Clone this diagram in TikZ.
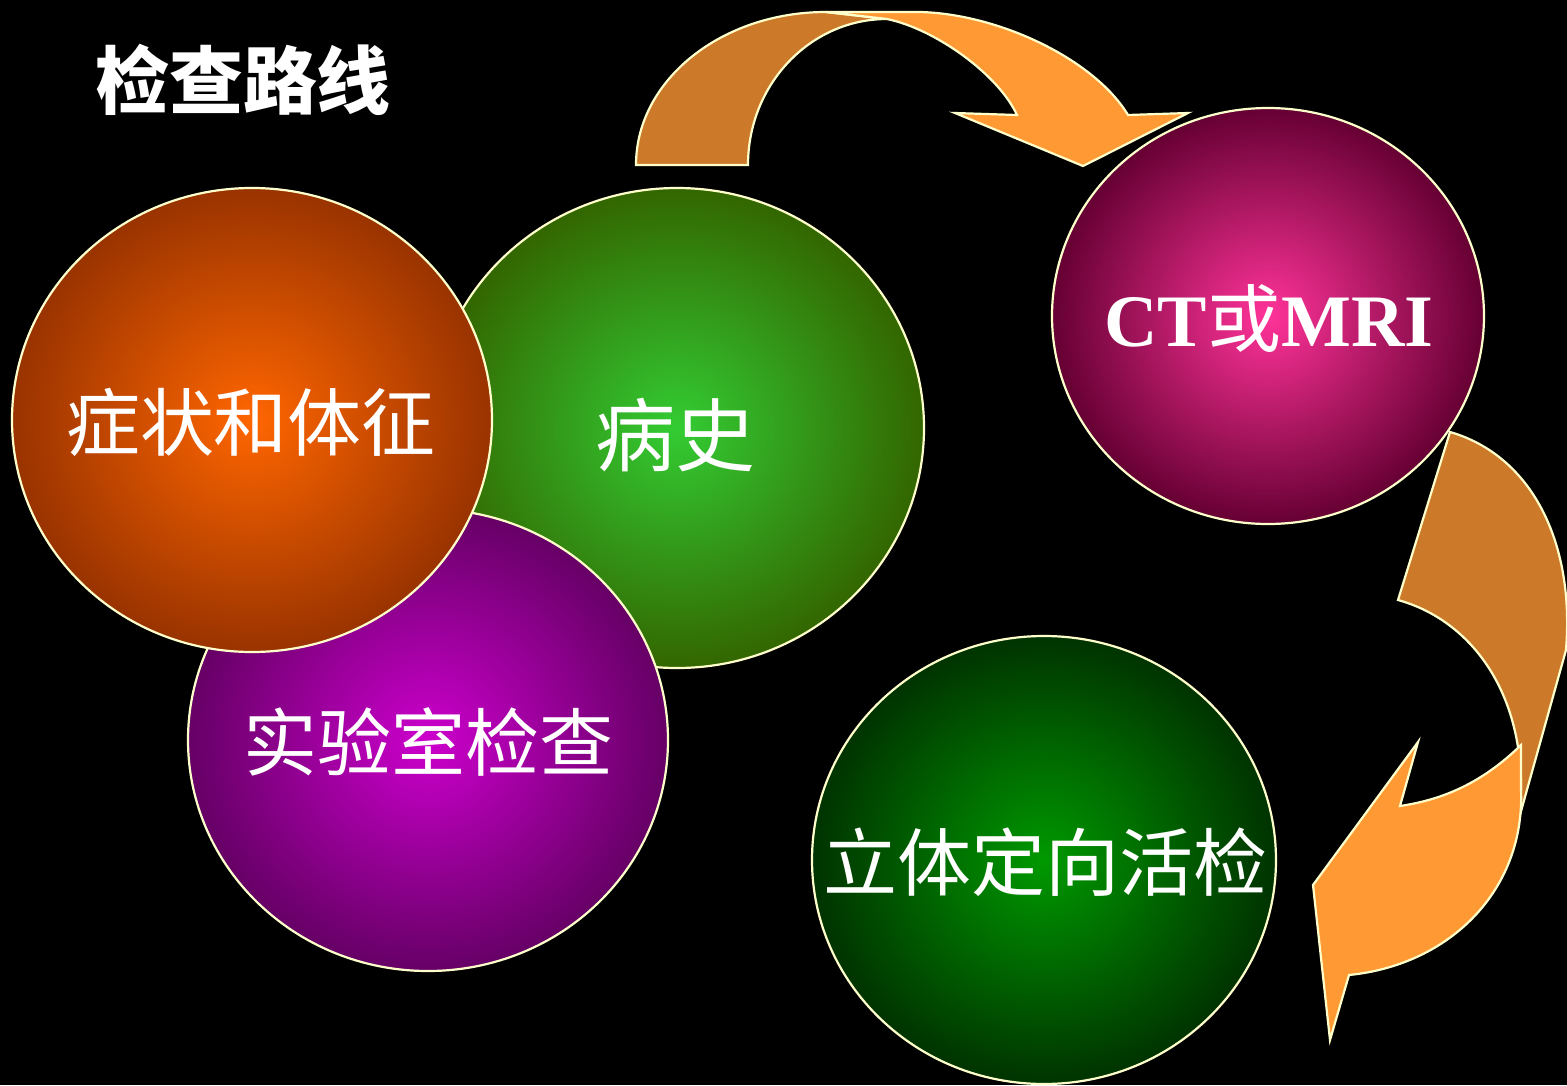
\documentclass[tikz,border=0pt]{standalone}
\usepackage{fontspec}
\setmainfont{Liberation Serif}
\newfontfamily\cjk{Noto Sans CJK SC}
\definecolor{cream}{HTML}{FFFFCC}
\definecolor{arrowdark}{HTML}{CC7A29}
\definecolor{arrowlight}{HTML}{FF9933}
\tikzset{
  ball/.style={draw=cream, line width=2.2pt},
  label/.style={text=white, inner sep=0pt},
  arrowback/.style={fill=arrowdark, draw=cream, line width=2.2pt, line join=miter},
  arrowfront/.style={fill=arrowlight, draw=cream, line width=2.2pt, line join=miter},
  cjktext/.style={font=\cjk\fontsize{74}{80}\selectfont}
}
\begin{document}
\begin{tikzpicture}[x=1pt,y=-1pt]
\fill[black] (0,0) rectangle (1567,1085);
\useasboundingbox (0,0) rectangle (1567,1085);

% title
\node[label, font=\cjk\bfseries\fontsize{74}{80}\selectfont] (title) at (243,80) {检查路线};

% left cluster
\shade[ball, inner color={rgb,255:red,51;green,204;blue,51}, outer color={rgb,255:red,51;green,102;blue,0}] (677,428) ellipse [x radius=247, y radius=240];
\node[label, font=\cjk\fontsize{80}{86}\selectfont] (history) at (675,435) {病史};
\shade[ball, inner color={rgb,255:red,204;green,0;blue,204}, outer color={rgb,255:red,102;green,0;blue,102}] (428,740) ellipse [x radius=240, y radius=231];
\node[label, cjktext] (lab) at (428,742) {实验室检查};
\shade[ball, inner color={rgb,255:red,255;green,102;blue,0}, outer color={rgb,255:red,153;green,51;blue,0}] (252,420) ellipse [x radius=240, y radius=232];
\node[label, cjktext] (symptom) at (251,422) {症状和体征};

% right side
\shade[ball, inner color={rgb,255:red,255;green,51;blue,153}, outer color={rgb,255:red,102;green,0;blue,51}] (1268,316) ellipse [x radius=216, y radius=208];
\node[label, font=\bfseries\fontsize{74}{80}\selectfont] (ct) at (1269,318) {CT{\mdseries\cjk 或}MRI};
\shade[ball, inner color={rgb,255:red,0;green,153;blue,0}, outer color={rgb,255:red,0;green,51;blue,0}] (1044,860) ellipse [x radius=232, y radius=224];
\node[label, cjktext] (biopsy) at (1045,862) {立体定向活检};

% top curved arrow
\draw[arrowback] (636,165) arc[start angle=180, end angle=270, x radius=190, y radius=153]
  -- (887,19) arc[start angle=270, end angle=180, x radius=139, y radius=146] -- cycle;
\draw[arrowfront] (826,12) -- (920,12) .. controls (1000,14) and (1095,60) .. (1128,115)
  -- (1188,113) -- (1083,166) -- (955,113) -- (1017,115)
  .. controls (998,74) and (935,29) .. (887,19) -- cycle;

% right curved arrow
\draw[arrowback] (1450,432) .. controls (1530,455) and (1575,540) .. (1566,650)
  -- (1518,822) -- (1521,790) .. controls (1522,690) and (1470,620) .. (1398,600) -- cycle;
\draw[arrowfront] (1521,745) .. controls (1480,785) and (1440,800) .. (1400,806)
  -- (1418,742) -- (1313,885) -- (1330,1040) -- (1349,975)
  .. controls (1450,965) and (1525,890) .. (1521,790) -- cycle;
\end{tikzpicture}
\end{document}
